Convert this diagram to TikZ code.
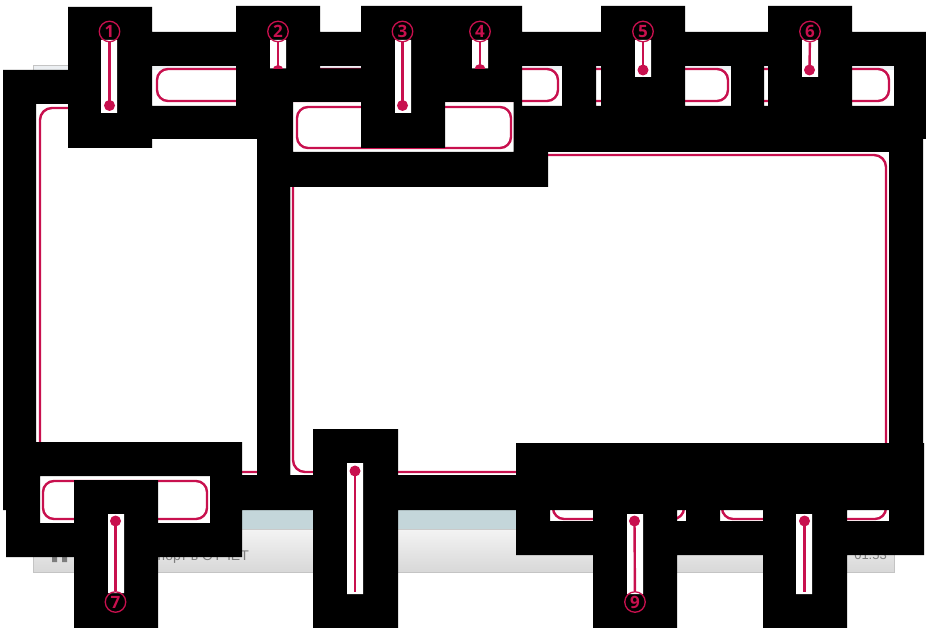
\documentclass[tikz,border=0pt]{standalone}
\usepackage{fontspec}
\setmainfont{Liberation Sans}
\newfontfamily\numfont{Open Sans}
\definecolor{cp}{RGB}{200,16,78}
\definecolor{bluegray}{RGB}{196,214,218}
\definecolor{framegray}{RGB}{196,196,196}
\definecolor{titlefill}{RGB}{236,239,242}
\definecolor{gtop}{RGB}{243,243,243}
\definecolor{gbot}{RGB}{216,216,216}
\definecolor{txtgray}{RGB}{125,125,125}
\begin{document}
\begin{tikzpicture}[x=1pt,y=-1pt,
  prect/.style={draw=cp, line width=2.4pt, rounded corners=11pt},
  bigrect/.style={draw=cp, line width=2.4pt, rounded corners=12pt},
  cline/.style={draw=cp, line width=2.4pt},
  num/.style={circle, draw=cp, line width=1.3pt, minimum size=20.5pt, inner sep=0pt,
    text=cp, font=\numfont\bfseries\fontsize{17}{17}\selectfont},
  masked/.style={fill=black},
  holestrip/.style={fill=white}]
\useasboundingbox (0,0) rectangle (926,628);
\fill[white] (0,0) rectangle (926,628);

% ---------- screenshot underneath ----------
\fill[titlefill] (34,66) rectangle (894,70);
\fill[bluegray] (34,510) rectangle (894,529);
\shade[top color=gtop, bottom color=gbot] (34,529.5) rectangle (894,572);
\draw[framegray!90, line width=0.8pt] (34,529.5) -- (894,529.5);
\draw[framegray, line width=1pt] (33.5,65.5) rectangle (894.5,572.5);
\draw[framegray!80, line width=0.8pt] (290.8,152) -- (290.8,475);
\fill[txtgray] (52,552) rectangle (57,562) (62,552) rectangle (67,562);
\node[anchor=base east, inner sep=0pt, text=txtgray, font=\fontsize{14}{14}\selectfont] (tl) at (249,560.5) {Экспорт в ОТЧЕТ};
\node[anchor=base east, inner sep=0pt, text=txtgray, font=\fontsize{13}{13}\selectfont] (tr) at (887,559) {01:53};

% ---------- highlight windows (white) ----------
\fill[white] (40,476) rectangle (210,523)
 (550,477) rectangle (686,521)
 (720,477) rectangle (890,521);

% ---------- highlight frames ----------
\draw[prect] (157,69) rectangle (558,101);
\draw[prect] (297,107) rectangle (511,148);
\draw[prect] (575,69) rectangle (728,101);
\draw[prect] (745,69) rectangle (889,101);
\draw[bigrect] (40,108) rectangle (272,472);
\draw[bigrect] (293,155) rectangle (886,472);
\draw[prect] (43,481) rectangle (207,519);
\draw[prect] (553,481) rectangle (684,519);
\draw[prect] (722,481) rectangle (886,519);

% ---------- black masks ----------
\fill[masked]
 (68,7) rectangle (152,148)
 (236,6) rectangle (320,102)
 (361,6) rectangle (522,102)
 (361,102) rectangle (445,148)
 (601,6) rectangle (685,112)
 (768,6) rectangle (852,112)
 (152,32) rectangle (926,66)
 (320,68.5) rectangle (361,102)
 (152,106) rectangle (293,139)
 (236,102) rectangle (293,139)
 (257,102) rectangle (293,187)
 (513.5,102) rectangle (522,187)
 (522,106) rectangle (548,187)
 (257,152) rectangle (548,187)
 (562,66) rectangle (596,106)
 (522,106) rectangle (926,139)
 (548,139) rectangle (923,152)
 (731,66) rectangle (764,106)
 (894,66) rectangle (926,106)
 (889,139) rectangle (923,510)
 (889,443) rectangle (924,555)
 (3,70) rectangle (68,104)
 (3,104) rectangle (36,510)
 (257,139) rectangle (290,510)
 (6,442) rectangle (242,476)
 (6,476) rectangle (40,557)
 (210,476) rectangle (242,557)
 (6,523) rectangle (242,557)
 (242,475) rectangle (889,510)
 (313,429) rectangle (398,628)
 (516,443) rectangle (924,477)
 (516,477) rectangle (550,555)
 (686,477) rectangle (720,555)
 (890,477) rectangle (924,555)
 (516,521) rectangle (924,555)
 (74,480) rectangle (158,628)
 (593,480) rectangle (677,628)
 (763,481) rectangle (847,628);

% ---------- callout strips ----------
\fill[holestrip]
 (101,40) rectangle (117,113)
 (270,40) rectangle (286,68.5)
 (395,40) rectangle (411,113)
 (472,40) rectangle (488,68.5)
 (635,40) rectangle (651,77)
 (802,40) rectangle (818,77)
 (108,514) rectangle (124,593)
 (347,463) rectangle (363,594)
 (627,514) rectangle (643,594)
 (796,514) rectangle (812,594);

% ---------- callout numbers ----------
\node[num] (n1) at (109.5,31.5) {1};
\node[num] (n2) at (278,31.5) {2};
\node[num] (n3) at (402.5,31.5) {3};
\node[num] (n4) at (480,31.5) {4};
\node[num] (n5) at (643,31.5) {5};
\node[num] (n6) at (810,31.5) {6};
\node[num] (n7) at (115.5,602) {7};
\node[num] (n9) at (635,602) {9};

\coordinate (d1) at (109.5,105.5);
\coordinate (d2) at (278,70.5);
\coordinate (d3) at (402.5,105.5);
\coordinate (d4) at (480,69.5);
\coordinate (d5) at (643,70);
\coordinate (d6) at (809.5,70);
\coordinate (d7) at (115.5,521);
\coordinate (d8) at (355,471);
\coordinate (e8) at (355,592);
\coordinate (d9) at (634.5,521);
\coordinate (d10) at (804.5,521);
\coordinate (e10) at (804.5,592);

% ---------- callout leaders ----------
\begin{scope}\clip (101,40) rectangle (117,113);
 \draw[cline] (n1) -- (d1); \fill[cp] (d1) circle (5.5pt);\end{scope}
\begin{scope}\clip (270,40) rectangle (286,68.5);
 \draw[cline] (n2) -- (d2); \fill[cp] (d2) circle (5.5pt);\end{scope}
\begin{scope}\clip (395,40) rectangle (411,113);
 \draw[cline] (n3) -- (d3); \fill[cp] (d3) circle (5.5pt);\end{scope}
\begin{scope}\clip (472,40) rectangle (488,68.5);
 \draw[cline] (n4) -- (d4); \fill[cp] (d4) circle (5.5pt);\end{scope}
\begin{scope}\clip (635,40) rectangle (651,77);
 \draw[cline] (n5) -- (d5); \fill[cp] (d5) circle (5.5pt);\end{scope}
\begin{scope}\clip (802,40) rectangle (818,77);
 \draw[cline] (n6) -- (d6); \fill[cp] (d6) circle (5.5pt);\end{scope}
\begin{scope}\clip (108,514) rectangle (124,593);
 \draw[cline] (d7) -- (n7); \fill[cp] (d7) circle (5.5pt);\end{scope}
\begin{scope}\clip (347,463) rectangle (363,594);
 \draw[cline] (d8) -- (e8); \fill[cp] (d8) circle (5.5pt);\end{scope}
\begin{scope}\clip (627,514) rectangle (643,594);
 \draw[cline] (d9) -- (n9); \fill[cp] (d9) circle (5.5pt);\end{scope}
\begin{scope}\clip (796,514) rectangle (812,594);
 \draw[cline] (d10) -- (e10); \fill[cp] (d10) circle (5.5pt);\end{scope}
\end{tikzpicture}
\end{document}
